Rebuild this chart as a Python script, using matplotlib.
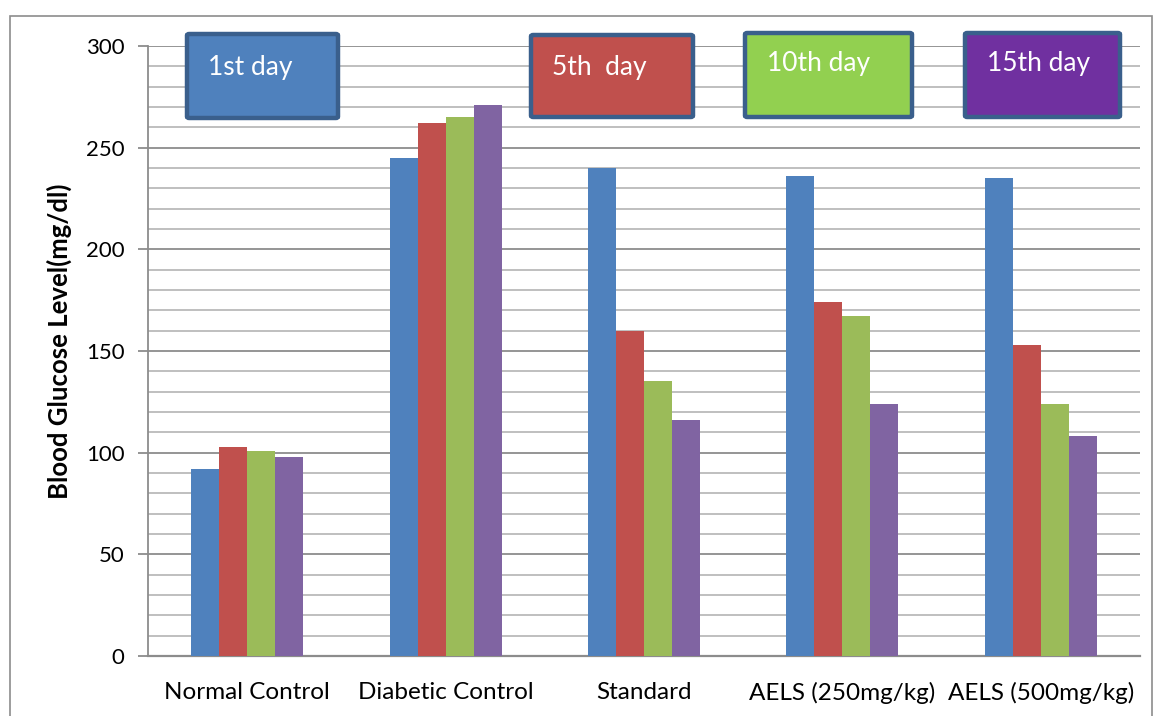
import matplotlib.pyplot as plt
import numpy as np
from matplotlib.patches import Rectangle, FancyBboxPatch

groups = ['Normal Control', 'Diabetic Control', 'Standard', 'AELS (250mg/kg)', 'AELS (500mg/kg)']
day1 = [92, 245, 240, 236, 235]
day5 = [103, 262, 160, 174, 153]
day10 = [101, 265, 135, 167, 124]
day15 = [98, 271, 116, 124, 108]
series = [day1, day5, day10, day15]
bar_colors = ['#4F81BD', '#C0504D', '#9BBB59', '#8064A2']
day_labels = ['1st day', '5th  day', '10th day', '15th day']
box_colors = ['#4F81BD', '#C0504D', '#92D050', '#7030A0']

plt.rcParams['font.family'] = ['Lato', 'DejaVu Sans']

W, H = 1155, 716
fig = plt.figure(figsize=(W / 100, H / 100), dpi=100)
ax = fig.add_axes([148 / W, 1 - 656 / H, (1140 - 148) / W, (656 - 46) / H])

x = np.arange(len(groups))
bw = 0.141
for i, vals in enumerate(series):
    ax.bar(x + (i - 1.5) * bw, vals, bw, color=bar_colors[i], zorder=3)

ax.set_xlim(-0.5, len(groups) - 0.5)
ax.set_ylim(0, 300)
ax.set_yticks(np.arange(0, 301, 50))
ax.set_yticks(np.arange(0, 301, 10), minor=True)
ax.grid(axis='y', which='minor', color='#B4B4B4', linewidth=1.2, zorder=0)
ax.grid(axis='y', which='major', color='#8C8C8C', linewidth=1.3, zorder=0)
ax.set_xticks(x)
ax.set_xticklabels(groups, fontsize=17.5)
ax.tick_params(axis='x', length=0, pad=19)
ax.tick_params(axis='y', which='major', length=7, width=1.3, color='#8C8C8C', labelsize=16, pad=10)
ax.tick_params(axis='y', which='minor', length=0)
for s in ['top', 'right']:
    ax.spines[s].set_visible(False)
ax.spines['left'].set_color('#8C8C8C')
ax.spines['left'].set_linewidth(1.3)
ax.spines['bottom'].set_color('#8C8C8C')
ax.spines['bottom'].set_linewidth(1.6)
ax.set_ylabel('Blood Glucose Level(mg/dl)', fontsize=18.5, fontweight='bold', va='center')
ax.yaxis.set_label_coords(-0.089, 0.516)

# legend boxes drawn as coloured labels
boxes = [(187, 34, 338, 118), (531, 35, 693, 117), (745, 33, 912, 117), (965, 33, 1120, 117)]
text_pos = [(208, 67), (552, 68), (767, 63), (987, 64)]
for (x0, y0, x1, y1), (tx, ty), lab, c in zip(boxes, text_pos, day_labels, box_colors):
    fig.patches.append(FancyBboxPatch((x0 / W, 1 - y1 / H), (x1 - x0) / W, (y1 - y0) / H,
                                      boxstyle='round,pad=0,rounding_size=0.002',
                                      transform=fig.transFigure, facecolor=c,
                                      edgecolor='#3A5F8C', linewidth=3.2, zorder=5))
    fig.text(tx / W, 1 - ty / H, lab, color='white', fontsize=19, va='center', ha='left', zorder=6)

# outer frame
fig.patches.append(Rectangle((10 / W, -0.05), (1152 - 10) / W, 1.05 - 16 / H,
                             transform=fig.transFigure, fill=False,
                             edgecolor='#8C8C8C', linewidth=1.2))

fig.savefig('out.png', dpi=100)
